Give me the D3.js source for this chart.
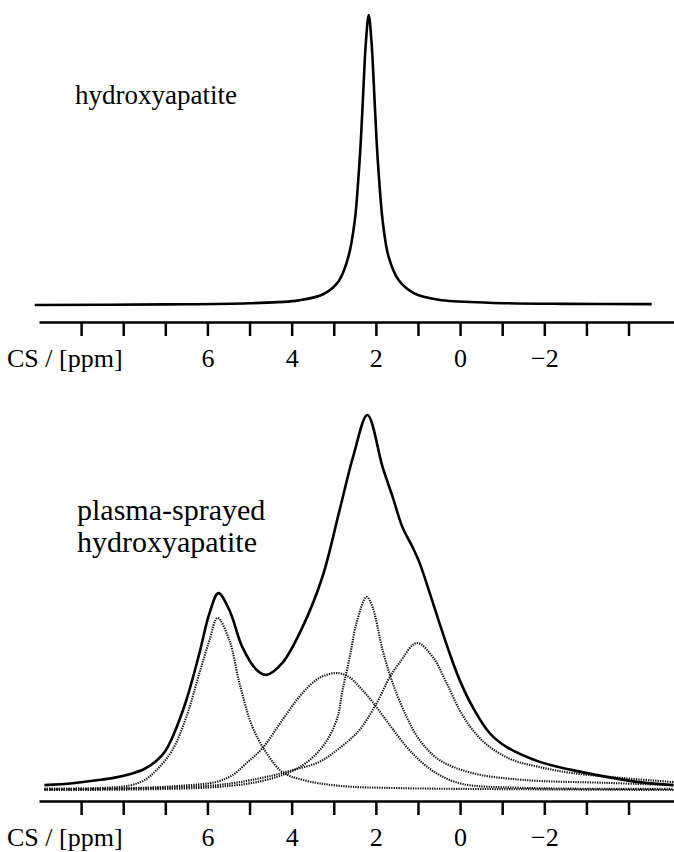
<!DOCTYPE html>
<html>
<head>
<meta charset="utf-8">
</head>
<body style="margin:0">
<script src="https://cdnjs.cloudflare.com/ajax/libs/d3/7.8.5/d3.min.js"></script>
<script>
  // chemical shift axis (ppm)
  var tickPpm = [9, 8, 7, 6, 5, 4, 3, 2, 1, 0, -1, -2, -3, -4];
  var labelPpm = [6, 4, 2, 0, -2];
  var axisTitle = "CS / [ppm]";

  // upper spectrum: [ppm, intensity]
  var hapSpectrum = [
    [10.1, 0], [7.0, 0.2], [5.02, 0.6], [3.83, 1.6], [3.24, 3.8], [2.88, 8.3], [2.65, 16.8],
    [2.50, 29.2], [2.41, 44.8], [2.36, 55.9], [2.29, 76.4], [2.24, 90], [2.17, 100],
    [2.10, 90], [2.05, 76.4], [1.98, 55.9], [1.93, 44.8], [1.84, 29.2], [1.70, 16.8],
    [1.46, 8.6], [1.10, 4.1], [0.51, 1.8], [-0.68, 0.8], [-2.5, 0.4], [-4.55, 0.3]
  ];

  // lower spectrum (measured envelope) and the four fitted lines
  var psSum = [
    [9.87, 1.3], [9.2, 1.8], [8.63, 2.6], [8.2, 3.3], [7.85, 4.2], [7.5, 5.6], [7.21, 7.8],
    [7.0, 10.4], [6.83, 14.1], [6.50, 24.0], [6.19, 36.5],
    [5.95, 47.2], [5.74, 52.5], [5.48, 48.0], [5.17, 38.1], [4.83, 32.0], [4.60, 30.7],
    [4.22, 33.9], [3.74, 43.5], [3.27, 56.8], [2.86, 74.7], [2.53, 89.3], [2.20, 100],
    [1.84, 86.1], [1.60, 78.1], [1.37, 70.1], [1.13, 64.8], [0.96, 60.5], [0.72, 52.5],
    [0.49, 44.5], [0.25, 36.5], [0.01, 29.3], [-0.30, 22.1], [-0.70, 15.2], [-1.10, 11.5],
    [-1.89, 7.5], [-2.67, 5.3], [-3.48, 3.5], [-4.26, 2.1], [-5.07, 1.3]
  ];
  var psLineA = [
    [9.87, 0.3], [8.6, 0.5], [7.85, 1.2], [7.5, 2.6], [7.21, 5.3], [6.83, 10.7], [6.50, 19.5],
    [6.19, 31.2], [5.95, 40.0], [5.76, 45.9], [5.48, 40.0], [5.24, 28.5], [4.93, 16.8],
    [4.60, 9.9], [4.22, 4.8], [3.74, 2.7], [2.86, 1.1], [1.44, 0.5], [-1.5, 0.2], [-5.07, 0]
  ];
  var psLineB = [
    [9.87, 0.3], [7.85, 0.5], [6.66, 1.1], [5.78, 2.2], [5.4, 4.0], [5.07, 7.2], [4.69, 11.2],
    [4.22, 18.7], [3.74, 25.9], [3.34, 29.9], [2.91, 31.2], [2.62, 30.0], [2.39, 27.5],
    [2.08, 23.5], [1.67, 17.3], [1.27, 11.5], [0.89, 7.2], [0.49, 4.0], [-0.06, 1.6],
    [-1.42, 0.6], [-5.07, 0.3]
  ];
  var psLineC = [
    [9.87, 0], [5.78, 0.8], [4.60, 2.7], [3.81, 6.1], [3.27, 11.5], [2.93, 18.7], [2.79, 26.7],
    [2.62, 35.5], [2.46, 44.5], [2.22, 51.5], [2.08, 48.8], [1.84, 37.3], [1.60, 28.5],
    [1.27, 19.5], [0.96, 13.3], [0.49, 8.0], [-0.30, 4.5], [-1.49, 2.7], [-3.48, 1.9], [-5.07, 1.3]
  ];
  var psLineD = [
    [9.87, 0.1], [5.78, 1.3], [4.60, 3.5], [3.98, 5.3], [3.34, 7.5], [2.86, 11.2], [2.39, 16.0],
    [1.98, 23.2], [1.67, 30.1], [1.44, 33.9], [1.03, 39.2], [0.65, 35.5], [0.32, 28.5],
    [0.01, 21.3], [-0.30, 16.0], [-0.70, 11.5], [-1.25, 8.0], [-1.89, 6.1], [-2.67, 4.5],
    [-3.86, 3.2], [-5.07, 2.1]
  ];

  var width = 674, height = 852;
  var serif = "Liberation Serif";

  var svg = d3.select("body").append("svg")
    .attr("width", width)
    .attr("height", height)
    .style("display", "block");

  var x = d3.scaleLinear().domain([10, -5.08]).range([39, 674]);
  var yTop = d3.scaleLinear().domain([0, 100]).range([305, 15]);
  var yBot = d3.scaleLinear().domain([0, 100]).range([790, 415]);

  function lineFor(y) {
    return d3.line()
      .x(function (d) { return x(d[0]); })
      .y(function (d) { return y(d[1]); })
      .curve(d3.curveCatmullRom.alpha(0.5));
  }

  function drawSpectrum(data, y, dotted) {
    svg.append("path").datum(data)
      .attr("fill", "none")
      .attr("stroke", dotted ? "#111" : "#000")
      .attr("stroke-width", dotted ? 2.1 : 2.6)
      .attr("stroke-dasharray", dotted ? "1.3 1.1" : null)
      .attr("stroke-linejoin", "round")
      .attr("d", lineFor(y));
  }

  function serifText(sel, fs) {
    return sel.attr("font-family", serif)
      .style("font-family", "'" + serif + "'")
      .attr("font-size", fs)
      .attr("fill", "#000");
  }

  function drawAxis(yPos) {
    var axis = d3.axisBottom(x)
      .tickValues(tickPpm)
      .tickSize(14)
      .tickSizeOuter(0)
      .tickFormat(function (d) {
        if (labelPpm.indexOf(d) < 0) return "";
        return d < 0 ? "\u2212" + Math.abs(d) : String(d);
      });
    var g = svg.append("g")
      .attr("transform", "translate(0," + yPos + ")")
      .call(axis);
    serifText(g, 26);
    g.selectAll("path, line").attr("stroke", "#000").attr("stroke-width", 2.5);
    serifText(g.selectAll(".tick text"), 26).attr("y", 45).attr("dy", 0);
    serifText(svg.append("text"), 26).attr("x", 7).attr("y", yPos + 45).text(axisTitle);
  }

  // upper panel
  drawSpectrum(hapSpectrum, yTop, false);
  serifText(svg.append("text"), 27).attr("x", 75).attr("y", 104).text("hydroxyapatite");
  drawAxis(322);

  // lower panel
  [psLineA, psLineB, psLineC, psLineD].forEach(function (s) { drawSpectrum(s, yBot, true); });
  drawSpectrum(psSum, yBot, false);
  serifText(svg.append("text"), 30).attr("x", 77).attr("y", 520).text("plasma-sprayed");
  serifText(svg.append("text"), 30).attr("x", 77).attr("y", 552).text("hydroxyapatite");
  drawAxis(801);
</script>
</body>
</html>
